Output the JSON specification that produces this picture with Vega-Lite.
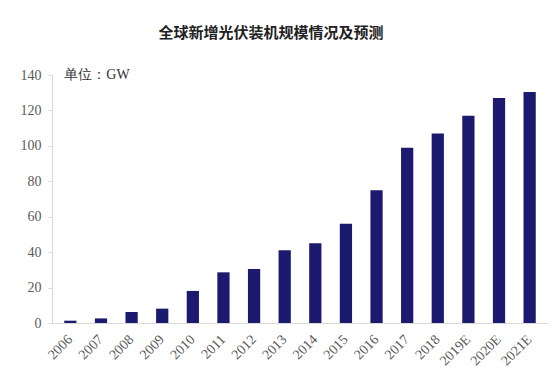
{
  "$schema": "https://vega.github.io/schema/vega-lite/v6.json",
  "width": 496,
  "height": 248,
  "autosize": {"type": "none"},
  "padding": {"left": 52, "top": 75, "right": 7, "bottom": 67},
  "background": "white",
  "title": {
    "text": "全球新增光伏装机规模情况及预测",
    "font": "Noto Sans CJK SC",
    "fontSize": 15,
    "fontWeight": "bold",
    "color": "#222222",
    "anchor": "middle",
    "frame": "group",
    "dx": -29,
    "offset": 27
  },
  "config": {
    "view": {"stroke": null},
    "axis": {"labelFont": "Liberation Serif", "labelColor": "#5a5a5a", "labelFontSize": 14, "grid": false, "domainColor": "#d9d9d9", "tickColor": "#d9d9d9", "labelOverlap": false}
  },
  "data": {
    "values": [
      {"year": "2006", "gw": 1.3},
      {"year": "2007", "gw": 2.6},
      {"year": "2008", "gw": 6.2},
      {"year": "2009", "gw": 8.1},
      {"year": "2010", "gw": 18.1},
      {"year": "2011", "gw": 28.6},
      {"year": "2012", "gw": 30.5},
      {"year": "2013", "gw": 41},
      {"year": "2014", "gw": 45},
      {"year": "2015", "gw": 56},
      {"year": "2016", "gw": 75},
      {"year": "2017", "gw": 99},
      {"year": "2018", "gw": 107},
      {"year": "2019E", "gw": 117},
      {"year": "2020E", "gw": 127},
      {"year": "2021E", "gw": 130.4}
    ]
  },
  "encoding": {
    "x": {
      "field": "year", "type": "ordinal", "sort": null,
      "scale": {"paddingInner": 0.6, "paddingOuter": 0.4},
      "axis": {"title": null, "labelAngle": -45, "labelAlign": "right", "labelBaseline": "middle", "ticks": false, "labelPadding": 14, "labelDx": 3}
    },
    "y": {
      "field": "gw", "type": "quantitative",
      "scale": {"domain": [0, 140]},
      "axis": {"title": null, "values": [0, 20, 40, 60, 80, 100, 120, 140], "tickCount": 8, "tickSize": 4, "labelPadding": 7, "labelFlush": false, "labelOverlap": false}
    }
  },
  "layer": [
    {
      "mark": {"type": "bar", "color": "#1b1a6e"}
    },
    {
      "transform": [{"filter": "datum.year == '2006'"}],
      "mark": {"type": "text", "text": "单位：GW", "font": "Liberation Serif", "fontSize": 14, "fontWeight": 400, "color": "#333333", "align": "left", "baseline": "middle", "dx": -6},
      "encoding": {
        "y": {"datum": 140, "type": "quantitative"}
      }
    }
  ]
}
